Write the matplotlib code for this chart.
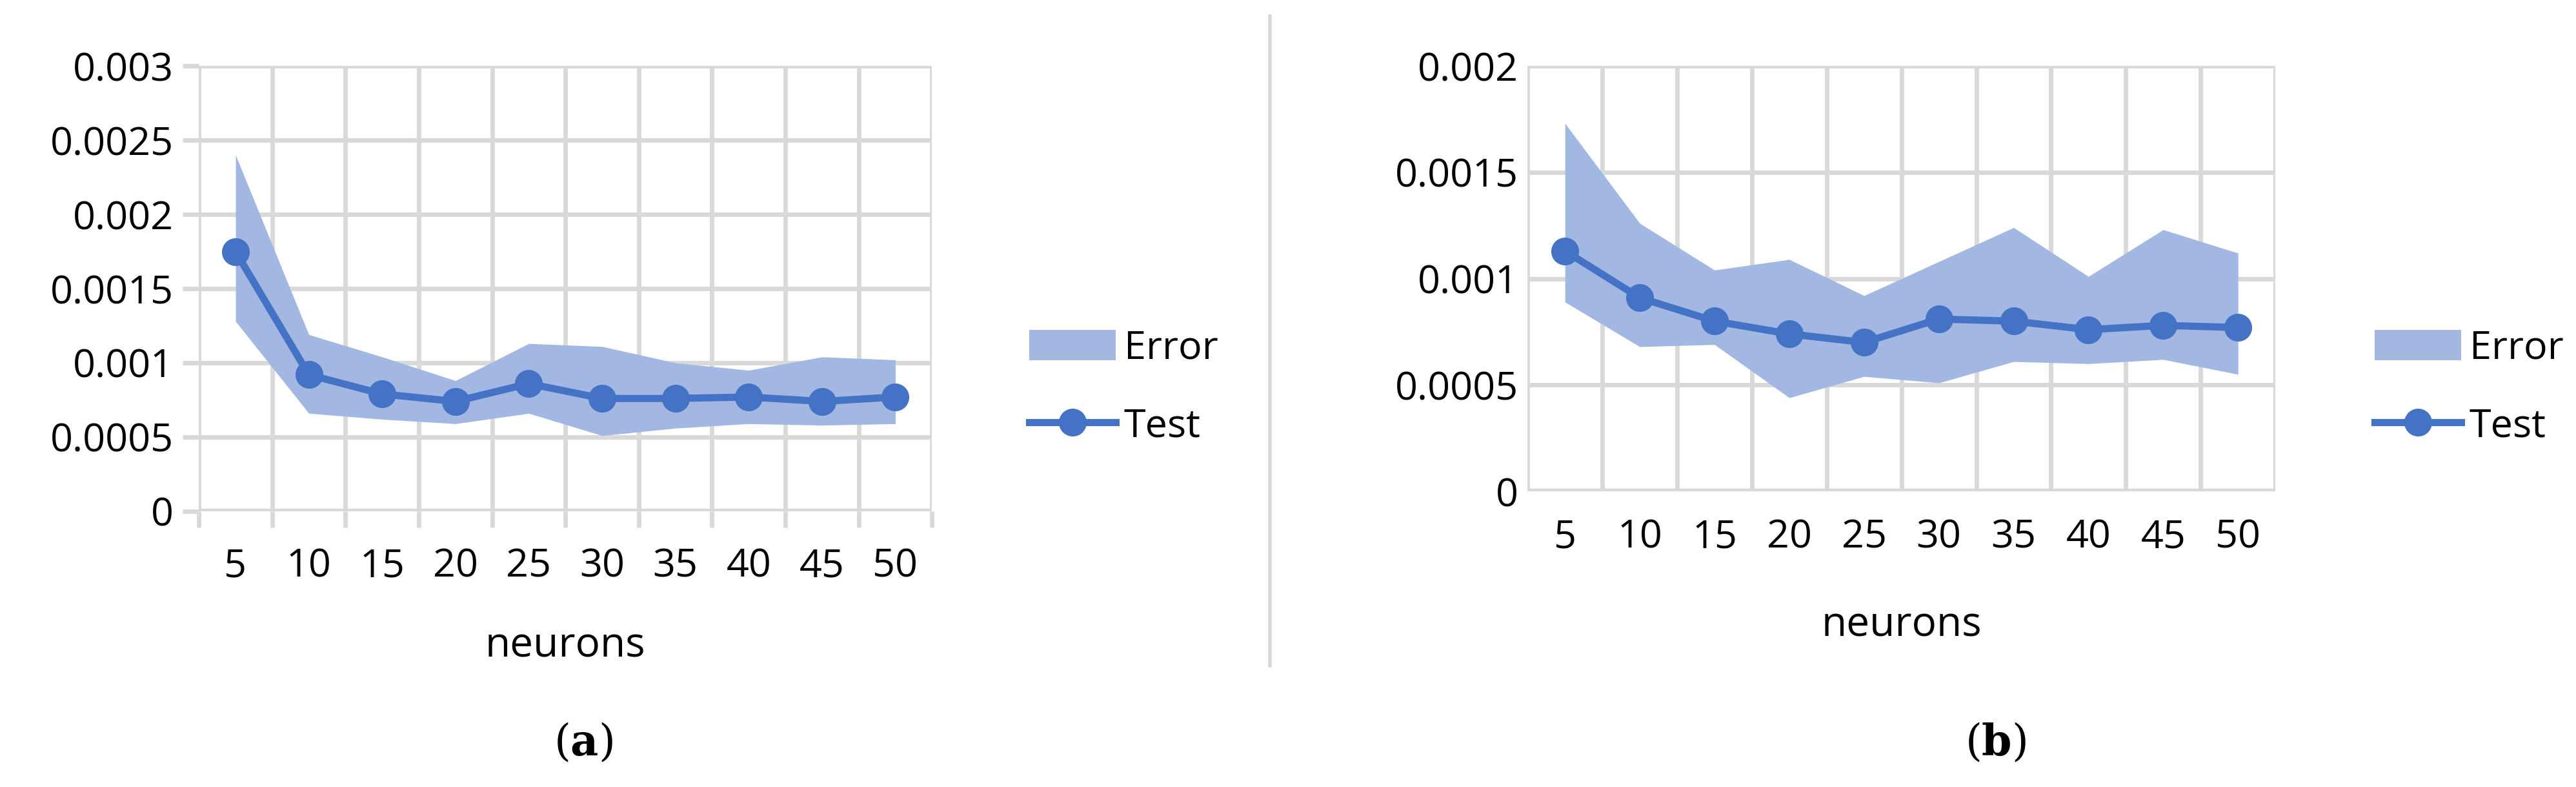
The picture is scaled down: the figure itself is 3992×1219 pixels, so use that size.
import matplotlib
matplotlib.use("Agg")
import matplotlib.pyplot as plt
import numpy as np
from matplotlib.patches import Patch
from matplotlib.lines import Line2D

plt.rcParams['font.family'] = ['Open Sans', 'DejaVu Sans']
plt.rcParams['mathtext.fontset'] = 'dejavuserif'

neurons = ["5", "10", "15", "20", "25", "30", "35", "40", "45", "50"]
test_a = [0.00175, 0.00092, 0.00079, 0.00074, 0.00086, 0.00076, 0.00076, 0.00077, 0.00074, 0.00077]
upper_a = [0.0024, 0.00119, 0.00104, 0.00088, 0.00113, 0.00111, 0.00100, 0.00095, 0.00104, 0.00102]
lower_a = [0.00128, 0.00066, 0.00062, 0.00059, 0.00066, 0.00051, 0.00056, 0.00059, 0.00058, 0.00059]
test_b = [0.00113, 0.00091, 0.00080, 0.00074, 0.00070, 0.00081, 0.00080, 0.00076, 0.00078, 0.00077]
upper_b = [0.00173, 0.00126, 0.00104, 0.00109, 0.00092, 0.00108, 0.00124, 0.00101, 0.00123, 0.00112]
lower_b = [0.00089, 0.00068, 0.00069, 0.00044, 0.00054, 0.00051, 0.00061, 0.00060, 0.00062, 0.00055]

BLUE = "#4472C4"
FILL = "#A2B7E1"
GRID = "#D9D9D9"
W, H = 3992, 1219
fig = plt.figure(figsize=(W/100, H/100), dpi=100)

FS = 44

def panel(rect, test, up, lo, ymax, yticks, ylabels, ticks_visible, leg_xy, xlab_y, cap, cap_x):
    ax = fig.add_axes(rect)
    x = np.arange(len(neurons))
    ax.fill_between(x, lo, up, color=FILL, lw=0, zorder=2)
    ax.plot(x, test, color=BLUE, lw=8, marker='o', ms=30, zorder=3)
    ax.set_xlim(-0.5, len(neurons)-0.5)
    ax.set_ylim(0, ymax)
    ax.set_yticks(yticks)
    ax.set_yticklabels(ylabels, fontsize=FS)
    ax.set_xticks(x)
    ax.set_xticklabels(neurons, fontsize=FS)
    ax.set_xticks(np.arange(-0.5, len(neurons)), minor=True)
    ax.tick_params(axis='x', which='major', length=0, pad=40 if ticks_visible else 30)
    ax.tick_params(axis='x', which='minor', length=18 if ticks_visible else 0, width=5, color=GRID)
    ax.tick_params(axis='y', length=18 if ticks_visible else 0, width=5, color=GRID, pad=10)
    ax.grid(True, axis='y', which='major', color=GRID, lw=5, zorder=0)
    ax.grid(True, axis='x', which='minor', color=GRID, lw=5, zorder=0)
    for s in ax.spines.values():
        s.set_visible(False)
    ax.axhline(0, color=GRID, lw=6, zorder=1)
    ax.set_axisbelow(True)
    cx = rect[0] + rect[2]/2
    fig.text(cx, xlab_y, "neurons", ha='center', va='center', fontsize=FS+2)
    fig.text(cap_x, 1-1151/H, "(" + r"$\mathbf{" + cap + "}$" + ")", ha='center', va='center',
             fontsize=48, family='DejaVu Serif')
    handles = [Patch(facecolor=FILL, edgecolor='none'),
               Line2D([], [], color=BLUE, lw=8, marker='o', ms=30)]
    fig.legend(handles, ["Error", "Test"], loc='center left', bbox_to_anchor=leg_xy,
               frameon=False, fontsize=FS, handlelength=2.2, handleheight=0.8,
               labelspacing=1.0, handletextpad=0.2)

panel([0.0772, 0.3503, 0.2846, 0.5660], test_a, upper_a, lower_a, 0.003,
      [0, 0.0005, 0.001, 0.0015, 0.002, 0.0025, 0.003],
      ["0", "0.0005", "0.001", "0.0015", "0.002", "0.0025", "0.003"], True,
      (1540/W, 1-600/H), 1-1000/H, "a", 904/W)
panel([0.593, 0.3757, 0.2903, 0.5406], test_b, upper_b, lower_b, 0.002,
      [0, 0.0005, 0.001, 0.0015, 0.002],
      ["0", "0.0005", "0.001", "0.0015", "0.002"], False,
      (3625/W, 1-600/H), 1-968/H, "b", 3093/W)

fig.add_artist(Line2D([1968/W, 1968/W], [1-25/H, 1-1031/H], color=GRID, lw=4))
fig.savefig("out.png", dpi=100, facecolor='white')
